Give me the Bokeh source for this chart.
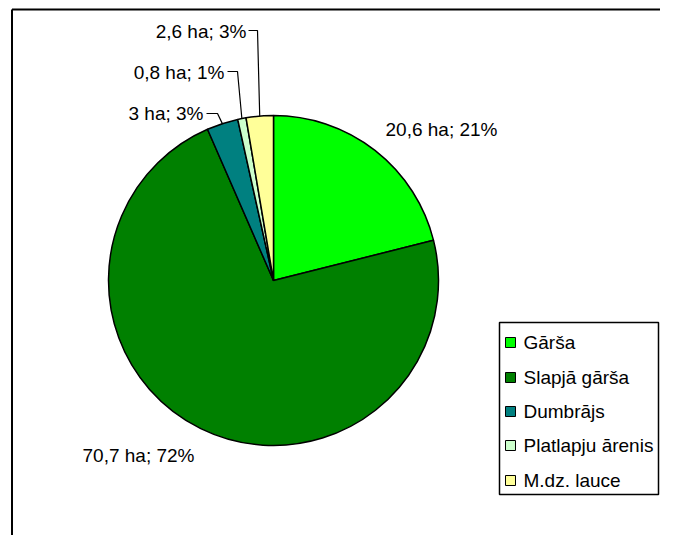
import math
from bokeh.plotting import figure
from bokeh.models import Range1d, ColumnDataSource
from bokeh.core.properties import value
from bokeh.embed import file_html
from bokeh.resources import INLINE

# ---- data ----
categories = ["Gārša", "Slapjā gārša", "Dumbrājs", "Platlapju ārenis", "M.dz. lauce"]
areas_ha = [20.6, 70.7, 3.0, 0.8, 2.6]
area_labels = ["20,6", "70,7", "3", "0,8", "2,6"]
percents = [21, 72, 3, 1, 3]
colors = ["#00FF00", "#008000", "#008080", "#CCFFCC", "#FFFF99"]

W, H = 660, 535
FONT = "Liberation Sans"


def Y(py):
    # convert a pixel row (from top) into data y
    return H - py


p = figure(width=W, height=H, output_backend="svg", toolbar_location=None,
           x_range=Range1d(0, W), y_range=Range1d(0, H), min_border=0)
p.axis.visible = False
p.grid.visible = False
p.outline_line_color = None
p.background_fill_color = "white"

# frame (only top and left visible in reference)
p.line(x=[11.5, W], y=[Y(9), Y(9)], line_color="black", line_width=2)
p.line(x=[11.5, 11.5], y=[0, Y(9)], line_color="black", line_width=2)

# pie
cx, cy, r = 273, Y(280), 165
total = sum(areas_ha)
starts, ends, mids = [], [], []
cum = 0.0
for a in areas_ha:
    f0 = cum / total
    cum += a
    f1 = cum / total
    starts.append(math.pi / 2 - f0 * 2 * math.pi)
    ends.append(math.pi / 2 - f1 * 2 * math.pi)
    mids.append(math.pi / 2 - (f0 + f1) / 2 * 2 * math.pi)

src = ColumnDataSource(dict(start=starts, end=ends, color=colors, name=categories))
p.wedge(x=cx, y=cy, radius=r, start_angle="start", end_angle="end",
        direction="clock", fill_color="color", line_color="black",
        line_width=1.5, source=src)

labels = [f"{a} ha; {pc}%" for a, pc in zip(area_labels, percents)]

# label placements (layout)
label_pos = [
    (385, Y(129), "left"),
    (82, Y(455), "left"),
    (203, Y(113), "right"),
    (224, Y(72), "right"),
    (246, Y(30.5), "right"),
]
for txt, (lx, ly, al) in zip(labels, label_pos):
    p.text(x=[lx], y=[ly], text=[txt], text_font=value(FONT), text_font_size="19px",
           text_align=al, text_baseline="middle", text_color="black")

# leader lines for the small slices
elbows = {2: (206, 217, Y(113)), 3: (227, 237, Y(71)), 4: (248, 257, Y(30))}
for i, (x0, x1, yy) in elbows.items():
    ex = cx + r * math.cos(mids[i])
    ey = cy + r * math.sin(mids[i])
    p.line(x=[x0, x1, ex], y=[yy, yy, ey], line_color="black", line_width=1.2)

# legend
bx0, bx1, by0, by1 = 499, 658, Y(494), Y(322)
p.rect(x=[(bx0 + bx1) / 2], y=[(by0 + by1) / 2], width=bx1 - bx0, height=by1 - by0,
       fill_color="white", line_color="black", line_width=1.5)
leg_y = [Y(v) for v in (342, 377, 411, 445, 480)]
p.rect(x=[510] * len(categories), y=leg_y, width=10, height=10,
       fill_color=colors, line_color="black", line_width=1)
p.text(x=[523] * len(categories), y=leg_y, text=categories, text_font=value(FONT),
       text_font_size="19px", text_align="left", text_baseline="middle",
       text_color="black")

open("out.html", "w").write(file_html(p, INLINE))
